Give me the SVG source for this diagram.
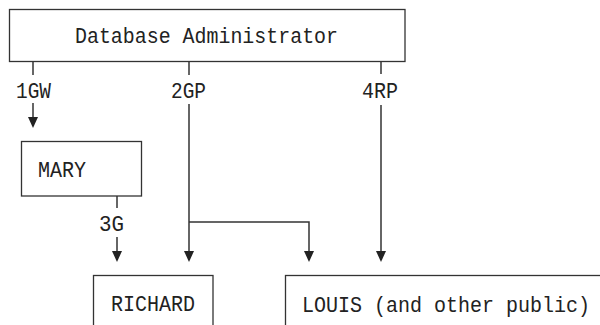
<svg xmlns="http://www.w3.org/2000/svg" width="600" height="325" viewBox="0 0 600 325">
<style>
.box{fill:#fff;stroke:#333;stroke-width:1.3}
.lbl{font-family:"Liberation Mono","DejaVu Sans Mono",monospace;font-size:22px;fill:#222}
.c{fill:none;stroke:#333;stroke-width:1.5}
</style>
<defs>
<marker id="ah" viewBox="0 0 11 10" refX="9" refY="5" markerWidth="11" markerHeight="10" markerUnits="userSpaceOnUse" orient="auto">
<path d="M0,0 L11,5 L0,10 Z" fill="#222"/>
</marker>
</defs>
<rect width="600" height="325" fill="#fff"/>
<g id="dba">
<rect class="box" x="9.5" y="9.5" width="395.5" height="52"/>
<text class="lbl" x="75" y="43" textLength="263" lengthAdjust="spacingAndGlyphs">Database Administrator</text>
</g>
<g id="mary">
<rect class="box" x="21.5" y="141.5" width="120" height="54.5"/>
<text class="lbl" x="38" y="177" textLength="48" lengthAdjust="spacingAndGlyphs">MARY</text>
</g>
<g id="richard">
<rect class="box" x="93.5" y="275.5" width="119.5" height="70"/>
<text class="lbl" x="111" y="311" textLength="84" lengthAdjust="spacingAndGlyphs">RICHARD</text>
</g>
<g id="louis">
<rect class="box" x="285.5" y="275.5" width="340" height="70"/>
<text class="lbl" x="302" y="312" textLength="288" lengthAdjust="spacingAndGlyphs">LOUIS (and other public)</text>
</g>
<g id="connectors">
<path class="c" d="M33,62 V75"/>
<path class="c" d="M33,103 V126" marker-end="url(#ah)"/>
<text class="lbl" x="16" y="97.5" textLength="35" lengthAdjust="spacingAndGlyphs">1GW</text>
<path class="c" d="M189,62 V75"/>
<path class="c" d="M189,104 V260" marker-end="url(#ah)"/>
<path class="c" d="M189,222 H309 V260" marker-end="url(#ah)"/>
<text class="lbl" x="171" y="97.5" textLength="35" lengthAdjust="spacingAndGlyphs">2GP</text>
<path class="c" d="M381,62 V74"/>
<path class="c" d="M381,105 V260" marker-end="url(#ah)"/>
<text class="lbl" x="362" y="97.5" textLength="36" lengthAdjust="spacingAndGlyphs">4RP</text>
<path class="c" d="M117,196 V208"/>
<path class="c" d="M117,237 V260" marker-end="url(#ah)"/>
<text class="lbl" x="99" y="230.5" textLength="25" lengthAdjust="spacingAndGlyphs">3G</text>
</g>
</svg>
